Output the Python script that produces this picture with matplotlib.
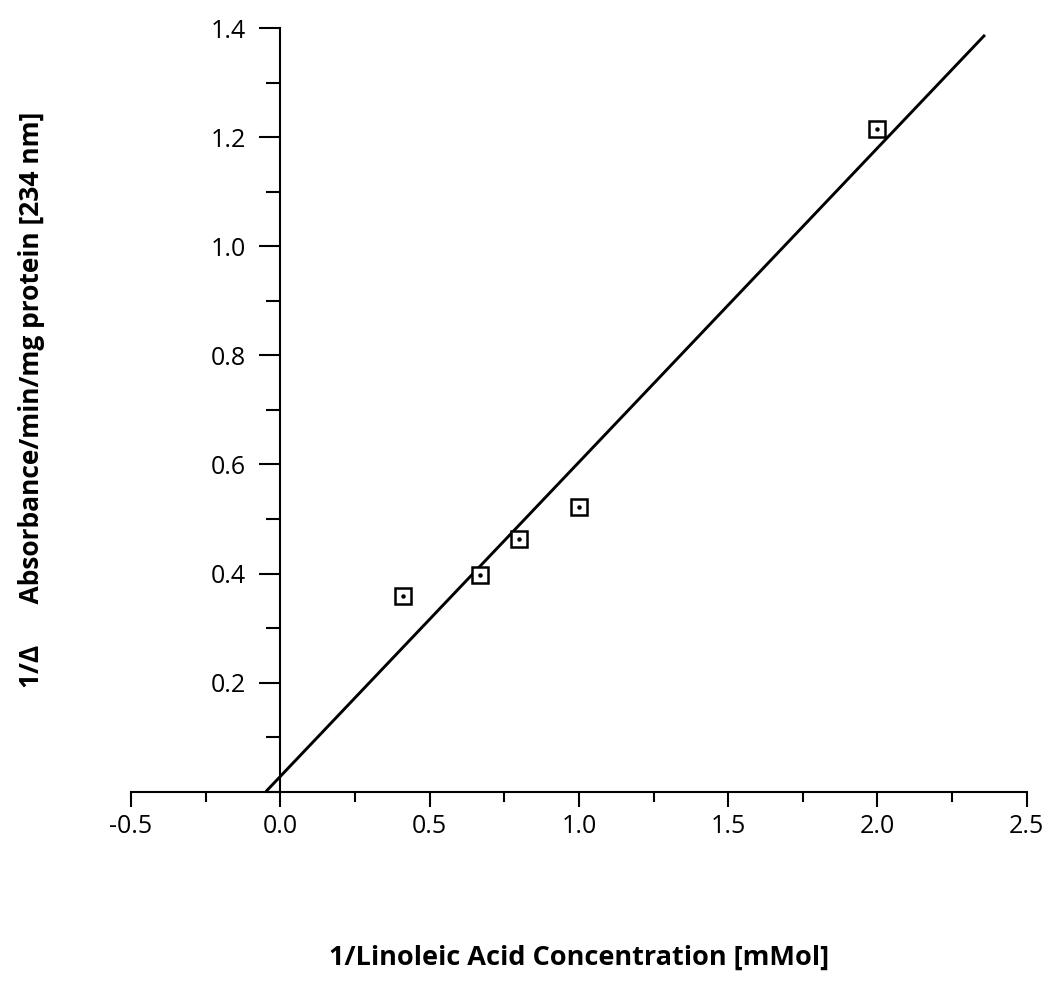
import matplotlib
matplotlib.use('Agg')
import matplotlib.pyplot as plt
from matplotlib.ticker import MultipleLocator
import numpy as np

# data
inv_conc = [0.41, 0.67, 0.80, 1.00, 2.00]
inv_rate = [0.359, 0.397, 0.463, 0.522, 1.214]

# fitted line (Lineweaver-Burk)
fit_slope = 0.576
fit_intercept = 0.028
fit_x_range = [-0.048, 2.36]

x_ticks = [-0.5, 0.0, 0.5, 1.0, 1.5, 2.0, 2.5]
y_ticks = [0.2, 0.4, 0.6, 0.8, 1.0, 1.2, 1.4]

plt.rcParams['font.family'] = ['Open Sans', 'DejaVu Sans']

fig = plt.figure(figsize=(10.43, 9.97), dpi=100, facecolor='white')
ax = fig.add_axes([0.1256, 0.2059, 0.8588, 0.7660])

fx = np.array(fit_x_range)
ax.plot(fx, fit_intercept + fit_slope * fx, color='black', lw=2.1, solid_capstyle='butt', zorder=2)

ax.plot(inv_conc, inv_rate, ls='none', marker='s', ms=11.5, mfc='white', mec='black', mew=1.8, zorder=3)
ax.plot(inv_conc, inv_rate, ls='none', marker='o', ms=2.2, color='black', zorder=4)

ax.set_xlim(-0.5, 2.5)
ax.set_ylim(0, 1.4)

ax.spines['top'].set_visible(False)
ax.spines['right'].set_visible(False)
ax.spines['left'].set_position(('data', 0))
ax.spines['left'].set_linewidth(1.5)
ax.spines['bottom'].set_linewidth(1.5)

ax.set_xticks(x_ticks)
ax.set_xticklabels([f"{v:.1f}" for v in x_ticks])
ax.set_yticks(y_ticks)
ax.set_yticklabels([f"{v:.1f}" for v in y_ticks])
ax.xaxis.set_minor_locator(MultipleLocator(0.25))
ax.yaxis.set_minor_locator(MultipleLocator(0.1))

ax.tick_params(axis='x', which='major', direction='out', length=11, width=1.5, labelsize=18, pad=5)
ax.tick_params(axis='x', which='minor', direction='out', length=7, width=1.5)
ax.tick_params(axis='y', which='major', direction='out', length=15, width=1.5, labelsize=18, pad=10)
ax.tick_params(axis='y', which='minor', direction='out', length=10, width=1.5)

fig.text(0.5552, 1 - 958 / 997, "1/Linoleic Acid Concentration [mMol]",
         ha='center', va='center', fontsize=19.5, fontweight='bold')
fig.text(32 / 1043, 1 - 400 / 997, "1/\u0394      Absorbance/min/mg protein [234 nm]",
         ha='center', va='center', rotation=90, fontsize=19, fontweight='bold')

plt.savefig('out.png', dpi=100)
plt.close()
